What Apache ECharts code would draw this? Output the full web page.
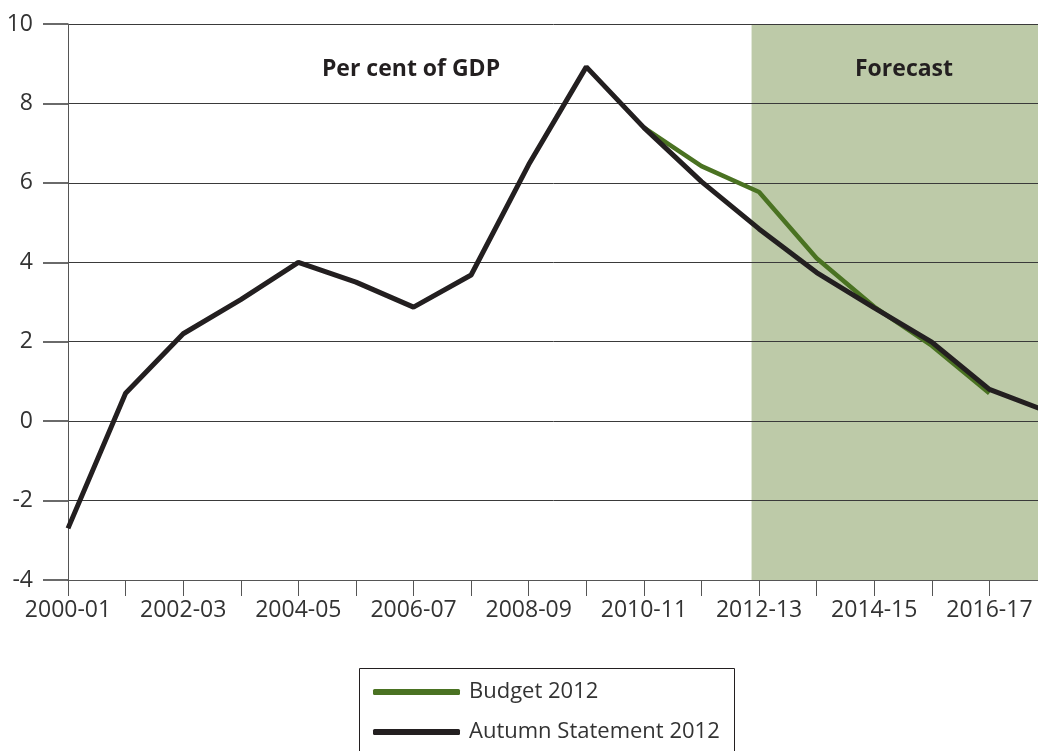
<!DOCTYPE html>
<html>
<head>
<meta charset="utf-8">
<script src="https://cdn.jsdelivr.net/npm/echarts@6/dist/echarts.min.js"></script>
<style>
html,body{margin:0;padding:0;background:#fff;}
#chart{width:1038px;height:751px;}
</style>
</head>
<body>
<div id="chart"></div>
<script>
var categories = ['2000-01','2001-02','2002-03','2003-04','2004-05','2005-06','2006-07','2007-08','2008-09','2009-10','2010-11','2011-12','2012-13','2013-14','2014-15','2015-16','2016-17','2017-18'];
var autumnStatement2012 = [-2.7, 0.7, 2.2, 3.06, 4.0, 3.5, 2.87, 3.68, 6.46, 8.92, 7.39, 6.03, 4.84, 3.74, 2.85, 1.99, 0.8, 0.25];
var budget2012 = [null, null, null, null, null, null, null, null, null, null, 7.39, 6.42, 5.77, 4.1, 2.88, 1.9, 0.7, null];
var forecastStart = 11.87;
var forecastEnd = 17;
var yTicks = {min: -4, max: 10, interval: 2};

var FONT = '"Open Sans", "Noto Sans", sans-serif';
var chart = echarts.init(document.getElementById('chart'), null, {renderer: 'canvas'});
chart.setOption({
  animation: false,
  backgroundColor: '#ffffff',
  grid: {left: 68, top: 24, width: 979, height: 556, containLabel: false, outerBoundsMode: 'none'},
  xAxis: [{
    type: 'category',
    data: categories,
    boundaryGap: false,
    z: 2,
    axisLine: {onZero: false, lineStyle: {color: '#555555', width: 1}},
    axisTick: {show: true, interval: 0, length: 16, lineStyle: {color: '#555555', width: 1}},
    axisLabel: {interval: 1, margin: 19, fontSize: 23, color: '#333333', fontFamily: FONT},
    splitLine: {show: false}
  }, {
    type: 'value',
    min: 0,
    max: 17,
    show: false
  }],
  yAxis: {
    type: 'value',
    min: yTicks.min,
    max: yTicks.max,
    interval: yTicks.interval,
    z: 2,
    axisLine: {show: true, lineStyle: {color: '#555555', width: 1}},
    axisTick: {show: true, inside: false, length: 25, lineStyle: {color: '#3a3a3a', width: 1.5}},
    axisLabel: {margin: 35, fontSize: 23, color: '#333333', fontFamily: FONT},
    splitLine: {show: true, lineStyle: {color: '#3a3a3a', width: 1}}
  },
  legend: {
    orient: 'vertical',
    left: 373,
    top: 680,
    data: ['Budget 2012', 'Autumn Statement 2012'],
    icon: 'roundRect',
    itemWidth: 87,
    itemHeight: 6,
    itemGap: 16,
    padding: 0,
    textStyle: {fontSize: 22, color: '#333333', fontFamily: FONT, lineHeight: 24, padding: [0, 0, 0, 4]}
  },
  graphic: [{
    type: 'rect',
    shape: {x: 359.5, y: 668.5, width: 375, height: 100},
    style: {fill: 'none', stroke: '#231f20', lineWidth: 1},
    z: 10
  }, {
    type: 'text',
    x: 411,
    y: 69,
    z: 10,
    style: {text: 'Per cent of GDP', font: 'bold 23px ' + FONT, fill: '#231f20', textAlign: 'center', textVerticalAlign: 'middle'}
  }, {
    type: 'text',
    x: 904,
    y: 69,
    z: 10,
    style: {text: 'Forecast', font: 'bold 23px ' + FONT, fill: '#231f20', textAlign: 'center', textVerticalAlign: 'middle'}
  }],
  series: [{
    name: 'forecast',
    type: 'line',
    xAxisIndex: 1,
    data: [],
    z: 1,
    silent: true,
    markArea: {
      silent: true,
      itemStyle: {color: '#bdcaa8', opacity: 1},
      data: [[{xAxis: forecastStart}, {xAxis: forecastEnd}]]
    }
  }, {
    name: 'Budget 2012',
    type: 'line',
    data: budget2012,
    z: 3,
    showSymbol: false,
    symbol: 'none',
    lineStyle: {color: '#4a7222', width: 4.5},
    itemStyle: {color: '#4a7222'}
  }, {
    name: 'Autumn Statement 2012',
    type: 'line',
    data: autumnStatement2012,
    z: 4,
    showSymbol: false,
    symbol: 'none',
    lineStyle: {color: '#231f20', width: 5},
    itemStyle: {color: '#231f20'}
  }]
});
</script>
</body>
</html>
